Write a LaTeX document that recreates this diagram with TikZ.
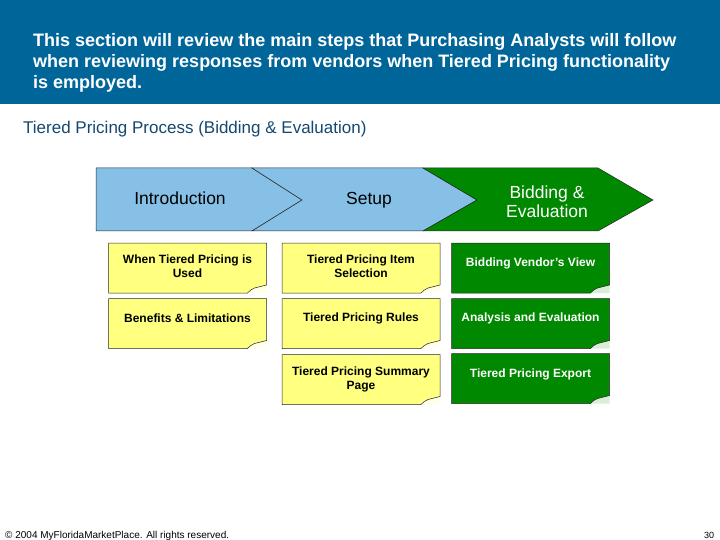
\documentclass[tikz,border=0pt]{standalone}
\usepackage{fontspec}
\setmainfont{Liberation Sans}
\definecolor{hdrblue}{RGB}{0,102,153}
\definecolor{subblue}{RGB}{20,72,112}
\definecolor{chevblue}{RGB}{135,192,230}
\definecolor{chevgreen}{RGB}{0,136,0}
\definecolor{noteyellow}{RGB}{255,255,128}
\begin{document}
\begin{tikzpicture}[x=1pt, y=-1pt,
    chev/.style={draw=black!85, line width=0.5pt},
    chevtxt/.style={font=\fontsize{17.5}{19.5}\selectfont, align=center},
    card/.style={draw=black!85, line width=0.5pt, fill=#1},
    cardtxt/.style={font=\bfseries\fontsize{12}{14}\selectfont, align=center, inner sep=0pt}]
    \useasboundingbox (0,0) rectangle (720,540);
    % header band
    \fill[hdrblue] (0,0) rectangle (720,104);
    \node[anchor=north west, inner sep=0pt, align=left, text=white,
          font=\bfseries\fontsize{18}{21.3}\selectfont] (head) at (33,33)
        {This section will review the main steps that Purchasing Analysts will follow\\
         when reviewing responses from vendors when Tiered Pricing functionality\\
         is employed.};
    \node[anchor=west, inner sep=0pt, text=subblue, font=\fontsize{17}{19}\selectfont] (sub) at (23,129)
        {Tiered Pricing Process (Bidding \& Evaluation)};
    % chevrons
    \filldraw[chev, fill=chevblue] (96,168) -- (252,168) -- (302,200) -- (252,231) -- (96,231) -- cycle;
    \filldraw[chev, fill=chevblue] (252,168) -- (423,168) -- (477,200) -- (423,231) -- (252,231) -- (302,200) -- cycle;
    \filldraw[chev, fill=chevgreen] (423,168) -- (598,168) -- (653,200) -- (598,231) -- (423,231) -- (477,200) -- cycle;
    \node[chevtxt] (intro) at (180,198) {Introduction};
    \node[chevtxt] (setup) at (369,200) {Setup};
    \node[chevtxt, text=white] (bidding) at (547,201.5) {Bidding \&\\Evaluation};
    % note cards: name/x/y/fill/text colour/shift/text
    \foreach \nm/\cx/\cy/\col/\tc/\dy/\txt in {
        c11/187.5/268/noteyellow/black/2/{When Tiered Pricing is\\Used},
        c12/187.5/323.5/noteyellow/black/5/{Benefits \& Limitations},
        c21/361/268/noteyellow/black/2/{Tiered Pricing Item\\Selection},
        c22/361/323.5/noteyellow/black/5/{Tiered Pricing Rules},
        c23/361/379.5/noteyellow/black/0/{Tiered Pricing Summary\\Page},
        c31/530.5/268/chevgreen/white/5/{Bidding Vendor's View},
        c32/530.5/323.5/chevgreen/white/5/{Analysis and Evaluation},
        c33/530.5/378.5/chevgreen/white/4/{Tiered Pricing Export}} {
        \fill[\col!15] ({\cx+60},{\cy+25}) -- ({\cx+79},{\cy+25}) -- ({\cx+79},{\cy+17})
            -- ({\cx+67},{\cy+20}) -- cycle;
        \filldraw[card=\col] ({\cx-79},{\cy-25}) -- ({\cx+79},{\cy-25}) -- ({\cx+79},{\cy+17})
            -- ({\cx+67},{\cy+20}) .. controls ({\cx+64},{\cy+21}) and ({\cx+62},{\cy+23}) .. ({\cx+60},{\cy+25})
            -- ({\cx-79},{\cy+25}) -- cycle;
        \node[cardtxt, text=\tc] (\nm) at (\cx,{\cy-\dy}) {\txt};
    }
    % footer
    \node[anchor=base west, inner sep=0pt, font=\fontsize{10}{12}\selectfont] (copy) at (5,538)
        {\textcopyright{} 2004 MyFloridaMarketPlace. All rights reserved.};
    \node[anchor=base west, inner sep=0pt, font=\fontsize{9}{11}\selectfont] (page) at (704,538) {30};
\end{tikzpicture}
\end{document}
